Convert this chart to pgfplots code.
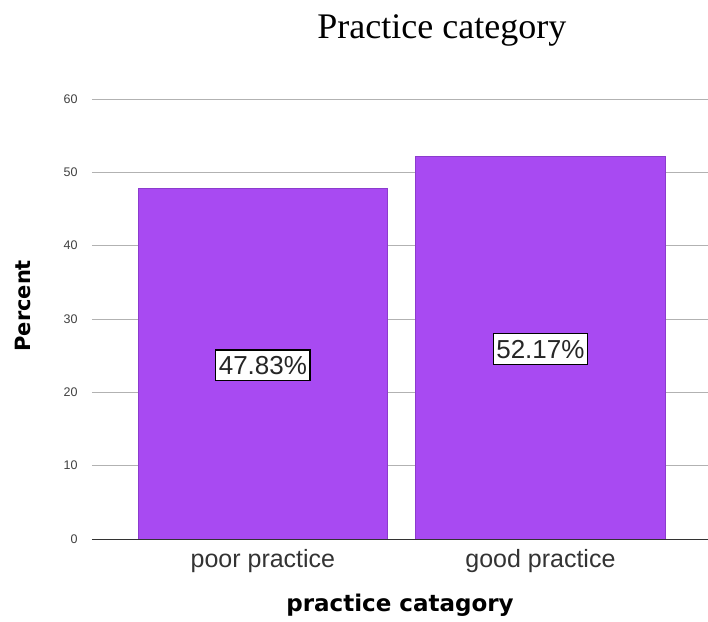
\documentclass[border=0pt]{standalone}
\usepackage{fontspec}
\setmainfont{Liberation Sans}
\newfontfamily\titlefont{Liberation Serif}
\newfontfamily\labelfont{DejaVu Sans}
\usepackage{pgfplots}
\pgfplotsset{compat=1.18}
\definecolor{barpurple}{RGB}{168,74,242}
\definecolor{baredge}{RGB}{140,60,205}
\begin{document}
\begin{tikzpicture}
\begin{axis}[
  scale only axis,
  width=616pt, height=440pt,
  xmin=-0.616, xmax=1.604,
  ymin=0, ymax=60,
  ytick={0,10,...,60},
  xtick={0,1},
  xticklabels={poor practice, good practice},
  major tick length=0pt,
  ymajorgrids,
  grid style={draw=black!30, line width=0.9pt},
  axis x line*=bottom,
  axis y line*=left,
  x axis line style={-, draw=black!80, line width=0.9pt},
  y axis line style={draw=none},
  /pgf/number format/assume math mode=true,
  yticklabel style={font=\fontsize{12.5}{13}\selectfont, text=black!75, anchor=east, xshift=-11pt},
  xticklabel style={font=\fontsize{25}{25}\selectfont, text=black!80, anchor=base, yshift=-29pt},
  xlabel={\bfseries practice catagory},
  ylabel={\bfseries Percent},
  every axis x label/.style={at={(axis description cs:0.5,-0.15)}, anchor=center, font=\labelfont\fontsize{23}{23}\selectfont},
  every axis y label/.style={at={(axis description cs:-0.112,0.53)}, rotate=90, anchor=center, font=\labelfont\fontsize{21}{21}\selectfont},
  title={Practice category},
  every axis title/.style={at={(axis description cs:0.568,1.155)}, anchor=center, font=\titlefont\fontsize{36}{36}\selectfont},
]
\addplot[ybar, bar width=0.9, fill=barpurple, draw=baredge, line width=0.6pt] coordinates {(0,47.83) (1,52.17)};
\addplot[draw=none, mark=none, point meta=explicit symbolic,
  nodes near coords={\pgfplotspointmeta\%},
  every node near coord/.append style={anchor=center, fill=white, draw=black, line width=1.2pt, inner xsep=3pt, inner ysep=6pt, text=black!85, font=\fontsize{26}{26}\selectfont}]
  coordinates {(0,23.7) [47.83] (1,25.9) [52.17]};
\end{axis}
\pgfresetboundingbox
\useasboundingbox ([shift={(-92pt,-83pt)}]current axis.south west) rectangle ([shift={(0pt,99pt)}]current axis.north east);
\end{tikzpicture}
\end{document}
